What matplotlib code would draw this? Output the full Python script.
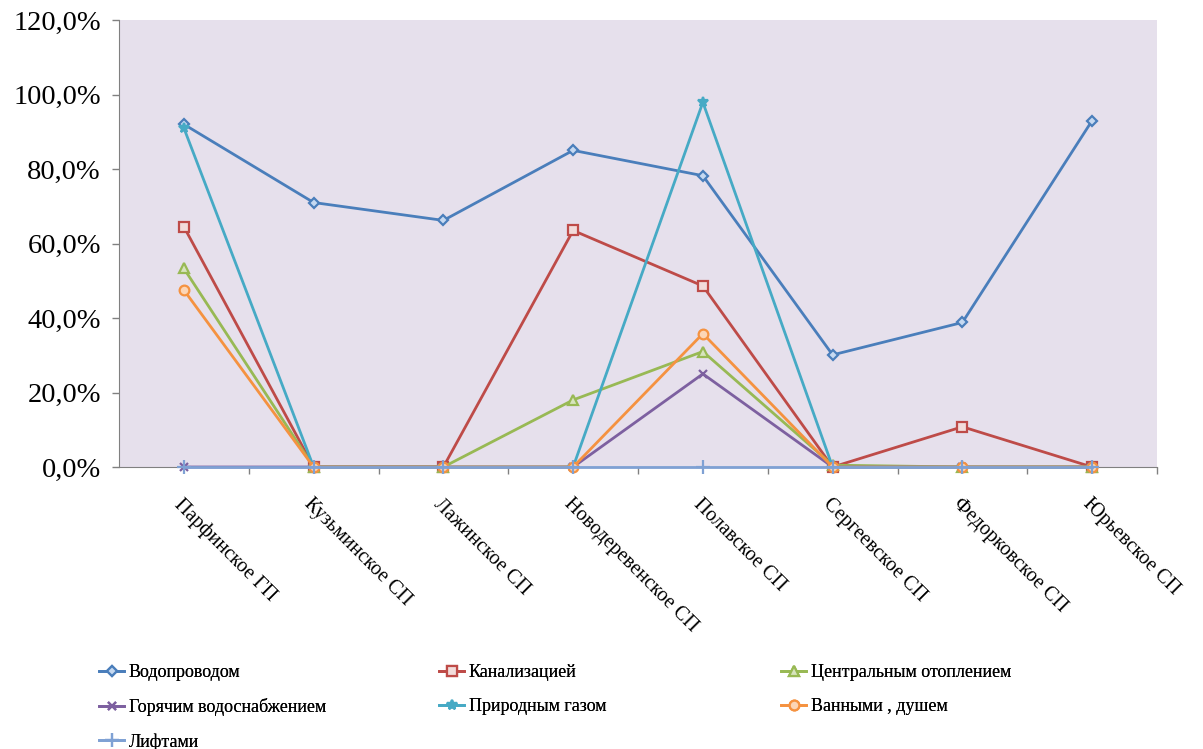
import matplotlib
matplotlib.use("Agg")
import matplotlib.pyplot as plt
from matplotlib.ticker import FuncFormatter, FixedLocator

plt.rcParams['font.family'] = ['Liberation Serif', 'DejaVu Serif']

categories = ["Парфинское ГП", "Кузьминское СП", "Лажинское СП", "Новодеревенское СП",
              "Полавское СП", "Сергеевское СП", "Федорковское СП", "Юрьевское СП"]

vodoprovod = [92.0, 71.0, 66.2, 85.0, 78.2, 30.1, 38.8, 93.0]
kanalizaciya = [64.5, 0.0, 0.0, 63.5, 48.6, 0.0, 10.8, 0.0]
otoplenie = [53.3, 0.0, 0.0, 18.0, 31.0, 0.5, 0.0, 0.0]
goryachee = [0.0, 0.0, 0.0, 0.0, 25.0, 0.0, 0.0, 0.0]
gaz = [91.0, 0.0, 0.0, 0.0, 97.9, 0.0, 0.0, 0.0]
vannye = [47.5, 0.0, 0.0, 0.0, 35.8, 0.0, 0.0, 0.0]
lifty = [0.0, 0.0, 0.0, 0.0, 0.0, 0.0, 0.0, 0.0]

series_names = ["Водопроводом", "Канализацией", "Центральным отоплением",
                "Горячим водоснабжением", "Природным газом", "Ванными , душем", "Лифтами"]
series_data = [vodoprovod, kanalizaciya, otoplenie, goryachee, gaz, vannye, lifty]
colors = ["#4A7EBB", "#BE4B48", "#98B954", "#7D60A0", "#46AAC5", "#F59240", "#7FA1D4"]
markers = ["D", "s", "^", "x", "*", "o", "+"]
msizes = [5, 7, 7, 6, 7, 7, 10]
mfcs = ["#C6D9F1", "#F2DCDB", "#D7E4BD", "#7D60A0", "#46AAC5", "#FCD5B5", "#7FA1D4"]

fig = plt.figure(figsize=(12.03, 7.49), dpi=100)
ax = fig.add_axes([119/1203, 1-467/749, (1157-119)/1203, (467-20)/749])
ax.set_facecolor("#E6E0EC")

x = list(range(len(categories)))
handles = []
for i, (name, data) in enumerate(zip(series_names, series_data)):
    h, = ax.plot(x, data, color=colors[i], lw=2.0, marker=markers[i],
                 markersize=msizes[i], markerfacecolor=mfcs[i], markeredgecolor=colors[i],
                 markeredgewidth=1.6, label=name, zorder=3 + i, clip_on=False)
    handles.append(h)

ax.set_xlim(-0.5, len(categories)-0.5)
ax.set_ylim(0, 120)
ax.yaxis.set_major_locator(FixedLocator([0, 20, 40, 60, 80, 100, 120]))
ax.yaxis.set_major_formatter(FuncFormatter(lambda v, p: f"{v:.1f}%".replace(".", ",")))
ax.tick_params(axis='y', labelsize=20.5, length=5, width=1, color="#808080", pad=8)

ax.set_xticks(x)
ax.set_xticklabels([])
ax.tick_params(axis='x', which='major', length=0)
ax.set_xticks([i+0.5 for i in range(len(categories))], minor=True)
ax.tick_params(axis='x', which='minor', length=5, width=1, color="#808080")

for c, lab in zip(x, categories):
    ax.annotate(lab, xy=(c, 0), xycoords=('data', 'axes fraction'),
                xytext=(0, -20), textcoords='offset points', rotation=-45,
                rotation_mode='anchor', ha='left', va='top', fontsize=14.5)

for s in ['top', 'right']:
    ax.spines[s].set_visible(False)
ax.spines['left'].set_color("#808080")
ax.spines['bottom'].set_color("#808080")

cols = [[0, 3, 6], [1, 4], [2, 5]]
col_x = [99/1203, 439/1203, 781/1203]
for cx, idxs in zip(col_x, cols):
    leg = fig.legend([handles[i] for i in idxs], [series_names[i] for i in idxs],
                     loc='upper left', bbox_to_anchor=(cx, 1-664/749), frameon=False,
                     fontsize=13, handlelength=1.4, handletextpad=0.25, labelspacing=0.95,
                     borderaxespad=0, borderpad=0)
    fig.add_artist(leg)

fig.savefig("out.png", dpi=100)
